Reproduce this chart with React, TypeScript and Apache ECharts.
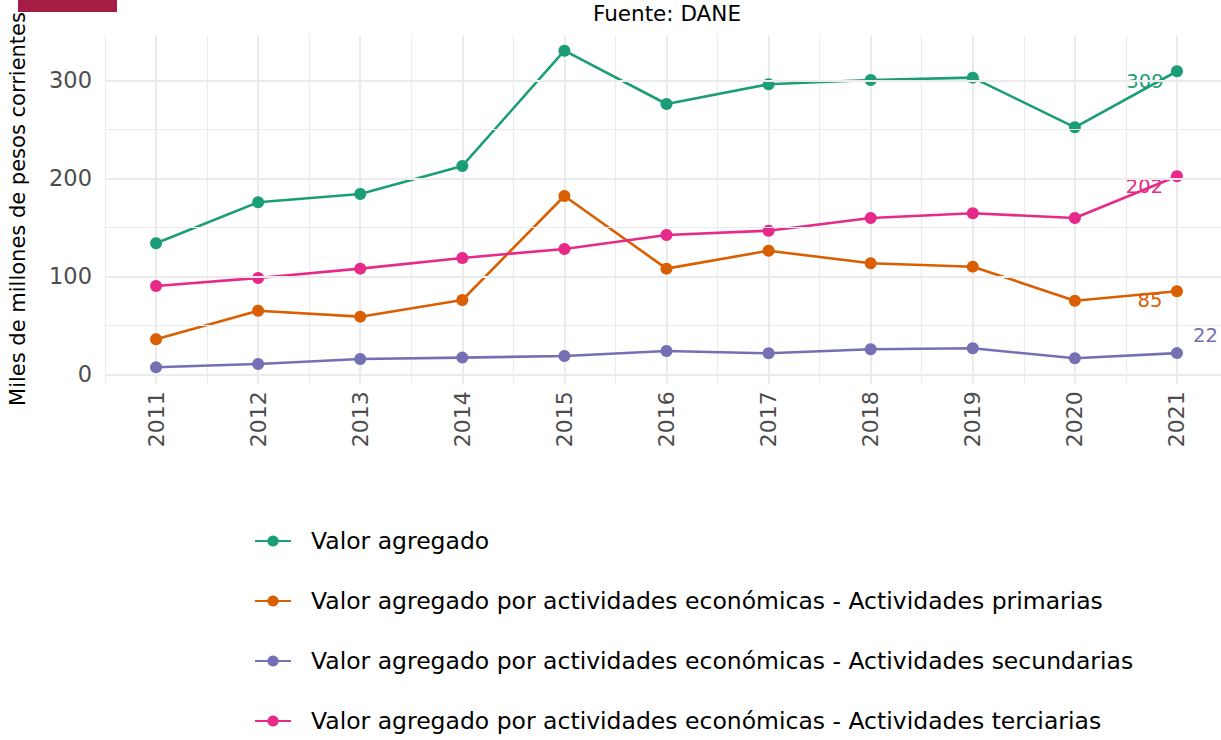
import React, { useEffect, useRef } from "react";
import * as echarts from "echarts";

const years = ["2011", "2012", "2013", "2014", "2015", "2016", "2017", "2018", "2019", "2020", "2021"];

const seriesNames = [
  "Valor agregado",
  "Valor agregado por actividades económicas - Actividades primarias",
  "Valor agregado por actividades económicas - Actividades secundarias",
  "Valor agregado por actividades económicas - Actividades terciarias",
];

const valorAgregado = [133.7, 175.5, 184, 212.6, 330.2, 275.8, 295.9, 300.3, 302.7, 252, 309.2];
const primarias = [35.7, 64.9, 58.8, 75.8, 181.9, 107.8, 126.1, 113.3, 109.8, 75.1, 84.7];
const secundarias = [7.1, 10.5, 15.6, 17, 18.7, 23.8, 21.4, 25.5, 26.5, 16.3, 21.6];
const terciarias = [90.1, 98.3, 107.8, 118.7, 127.9, 142.1, 146.5, 159.5, 164.3, 159.5, 202];

const yMajorTicks = [0, 100, 200, 300];
const yMinorTicks = [50, 150, 250];

const colors = ["#1B9E77", "#D95F02", "#7570B3", "#E7298A"];
const FONT = "DejaVu Sans";

export default function App() {
  const ref = useRef<HTMLDivElement>(null);

  useEffect(() => {
    if (!ref.current) return;
    const chart = echarts.init(ref.current, null, { renderer: "svg" });

    const allValues = [valorAgregado, primarias, secundarias, terciarias];
    const labelOffsets: [number, number][] = [
      [-32, 10],
      [-27, 9.5],
      [28.5, -17.5],
      [-32.5, 10.4],
    ];

    const mainSeries = allValues.map((vals, si) => ({
      name: seriesNames[si],
      type: "line",
      xAxisIndex: 0,
      yAxisIndex: 0,
      z: 3,
      symbol: "circle",
      symbolSize: 12,
      showSymbol: true,
      color: colors[si],
      lineStyle: { width: 2.6, color: colors[si] },
      itemStyle: { color: colors[si] },
      data: vals.map((v, i) =>
        i === vals.length - 1
          ? {
              value: v,
              label: {
                show: true,
                position: "inside",
                align: "center",
                verticalAlign: "middle",
                offset: labelOffsets[si],
                formatter: (p: any) => String(Math.round(p.value)),
                color: colors[si],
                fontSize: 19.5,
                fontFamily: FONT,
              },
            }
          : v
      ),
    }));

    const gridSeries = {
      name: "__grid",
      type: "line",
      xAxisIndex: 0,
      yAxisIndex: 0,
      z: 1,
      data: [],
      silent: true,
      markLine: {
        silent: true,
        symbol: ["none", "none"],
        label: { show: false },
        animation: false,
        data: [
          ...yMajorTicks.map((v) => ({ yAxis: v, lineStyle: { color: "#ebebeb", width: 2, type: "solid" } })),
          ...yMinorTicks.map((v) => ({ yAxis: v, lineStyle: { color: "#ebebeb", width: 1, type: "solid" } })),
        ],
      },
    };

    chart.setOption({
      animation: false,
      backgroundColor: "#ffffff",
      textStyle: { fontFamily: FONT },
      grid: { left: 105, right: 0, top: 35, bottom: 356.7, containLabel: false },
      xAxis: [
        {
          type: "category",
          data: years,
          boundaryGap: true,
          axisLine: { show: false },
          axisTick: { show: false },
          splitLine: { show: false },
          axisLabel: {
            rotate: 90,
            fontSize: 22,
            color: "#4d4d4d",
            margin: 8,
            fontFamily: FONT,
            interval: 0,
          },
        },
        {
          type: "value",
          min: 2010.5,
          max: 2021.5,
          interval: 1,
          show: true,
          axisLine: { show: false },
          axisTick: { show: false },
          axisLabel: { show: false },
          splitLine: { show: true, lineStyle: { color: "#ebebeb", width: 1 } },
          minorTick: { show: false, splitNumber: 2 },
          minorSplitLine: { show: true, lineStyle: { color: "#ebebeb", width: 2 } },
        },
      ],
      yAxis: [
        {
          type: "value",
          min: -9.2,
          max: 346.2,
          splitNumber: 4,
          axisLine: { show: false },
          axisTick: { show: false },
          splitLine: { show: false },
          axisLabel: {
            showMinLabel: false,
            showMaxLabel: false,
            fontSize: 22.5,
            color: "#4d4d4d",
            margin: 13,
            fontFamily: FONT,
          },
        },
      ],
      legend: {
        orient: "vertical",
        left: 254,
        top: 527,
        padding: 0,
        itemWidth: 36,
        itemHeight: 14,
        itemGap: 32,
        data: seriesNames,
        textStyle: {
          fontSize: 23.5,
          lineHeight: 28,
          color: "#000000",
          fontFamily: FONT,
          padding: [0, 0, 0, 15],
        },
      },
      graphic: [
        {
          type: "rect",
          shape: { x: 18, y: -5, width: 99, height: 17 },
          style: { fill: "#A51C45" },
        },
        {
          type: "text",
          x: 667,
          y: 13,
          style: {
            text: "Fuente: DANE",
            fontSize: 21.5,
            fontFamily: FONT,
            fill: "#000000",
            align: "center",
            verticalAlign: "middle",
          },
        },
        {
          type: "text",
          x: 18,
          y: 209,
          rotation: Math.PI / 2,
          style: {
            text: "Miles de millones de pesos corrientes",
            fontSize: 21,
            fontFamily: FONT,
            fill: "#000000",
            align: "center",
            verticalAlign: "middle",
          },
        },
      ],
      series: [gridSeries, ...mainSeries],
    });

    return () => chart.dispose();
  }, []);

  return (
    <div
      style={{ position: "fixed", left: 0, top: 0, width: 1221, height: 740, overflow: "hidden", background: "#fff" }}
    >
      <div ref={ref} style={{ width: 1228, height: 740 }} />
    </div>
  );
}
